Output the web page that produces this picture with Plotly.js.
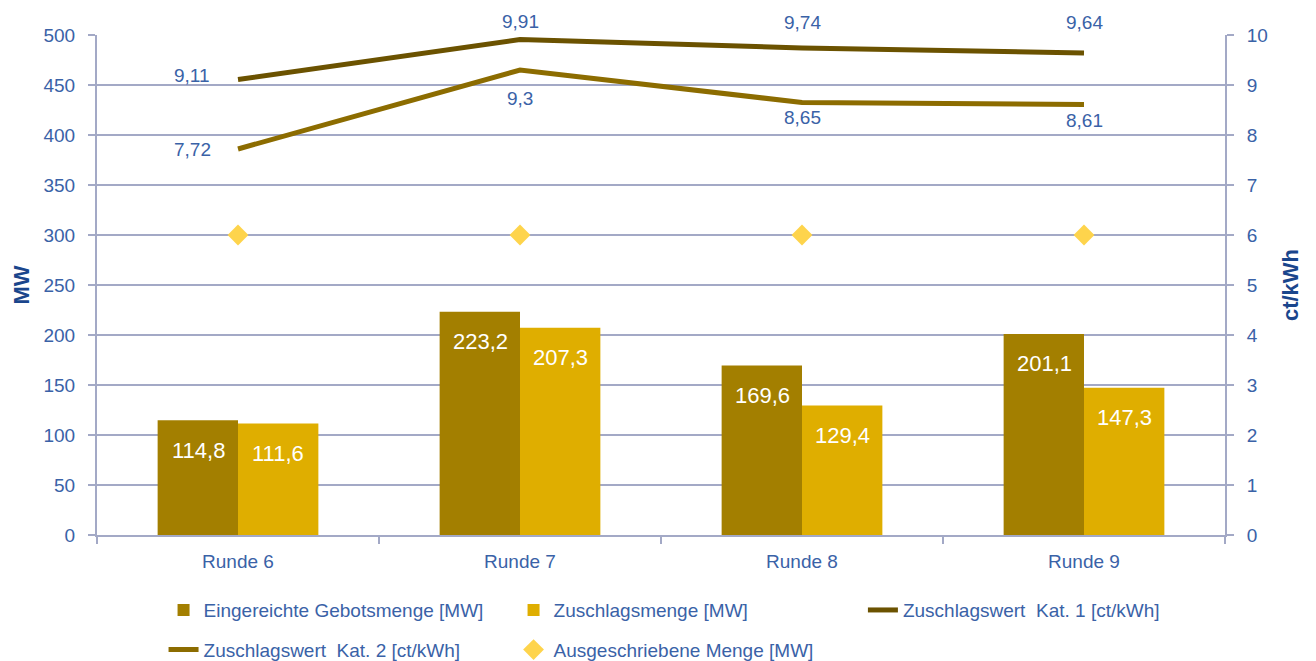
<!DOCTYPE html>
<html>
<head>
<meta charset="utf-8">
<script src="https://cdn.plot.ly/plotly-3.0.1.min.js"></script>
<style>html,body{margin:0;padding:0;background:#fff;}#chart{width:1316px;height:661px;}</style>
</head>
<body>
<div id="chart"></div>
<script>
// ---- data ----
const categories = ["Runde 6", "Runde 7", "Runde 8", "Runde 9"];
const gebotsmenge = [114.8, 223.2, 169.6, 201.1];      // MW
const zuschlagsmenge = [111.6, 207.3, 129.4, 147.3];   // MW
const wertKat1 = [9.11, 9.91, 9.74, 9.64];             // ct/kWh
const wertKat2 = [7.72, 9.3, 8.65, 8.61];              // ct/kWh
const ausgeschrieben = [300, 300, 300, 300];           // MW
const leftTicks = [0, 50, 100, 150, 200, 250, 300, 350, 400, 450, 500];
const rightTicks = [0, 1, 2, 3, 4, 5, 6, 7, 8, 9, 10];

// ---- style ----
const FONT = "Liberation Sans, Arial, sans-serif";
const TXT = "#3a62a7";
const TITLE = "#1a468c";
const GRID = "#a3a9c6";
const fmt = v => String(v).replace(".", ",");
// label offsets (px) for line value labels: [xshift, yshift]
const kat1Off = [[-46, 4], [0, 18], [0, 26], [0, 31]];
const kat2Off = [[-46, 0], [0, -28], [0, -15], [0, -16]];

const traces = [
  {type: "bar", name: "Eingereichte Gebotsmenge [MW]", x: categories, y: gebotsmenge,
   marker: {color: "#a37f00"}, hoverinfo: "y"},
  {type: "bar", name: "Zuschlagsmenge [MW]", x: categories, y: zuschlagsmenge,
   marker: {color: "#dfae00"}, hoverinfo: "y"},
  {type: "scatter", mode: "lines", name: "Zuschlagswert  Kat. 1 [ct/kWh]", x: categories, y: wertKat1,
   yaxis: "y2", line: {color: "#6b5200", width: 5}, legend: "legend3"},
  {type: "scatter", mode: "lines", name: "Zuschlagswert  Kat. 2 [ct/kWh]", x: categories, y: wertKat2,
   yaxis: "y2", line: {color: "#8c6c00", width: 5}, legend: "legend2"},
  {type: "scatter", mode: "markers", name: "Ausgeschriebene Menge [MW]", x: categories, y: ausgeschrieben,
   marker: {symbol: "diamond", size: 16, color: "#fed44c"}, legend: "legend2"}
];

const annotations = [];
categories.forEach((c, i) => {
  annotations.push({x: c, y: gebotsmenge[i], xref: "x", yref: "y", text: fmt(gebotsmenge[i]),
    showarrow: false, xshift: -40, yshift: -30, yanchor: "middle",
    font: {family: FONT, size: 22, color: "#ffffff"}});
  annotations.push({x: c, y: zuschlagsmenge[i], xref: "x", yref: "y", text: fmt(zuschlagsmenge[i]),
    showarrow: false, xshift: 40, yshift: -30, yanchor: "middle",
    font: {family: FONT, size: 22, color: "#ffffff"}});
  annotations.push({x: c, y: wertKat1[i], xref: "x", yref: "y2", text: fmt(wertKat1[i]),
    showarrow: false, xshift: kat1Off[i][0], yshift: kat1Off[i][1], yanchor: "middle",
    font: {family: FONT, size: 19, color: TXT}});
  annotations.push({x: c, y: wertKat2[i], xref: "x", yref: "y2", text: fmt(wertKat2[i]),
    showarrow: false, xshift: kat2Off[i][0], yshift: kat2Off[i][1], yanchor: "middle",
    font: {family: FONT, size: 19, color: TXT}});
});

const legendBase = {
  orientation: "h", xanchor: "left", yanchor: "middle", yref: "container",
  entrywidth: 305, entrywidthmode: "pixels",
  font: {family: FONT, size: 19, color: TXT}, bgcolor: "rgba(0,0,0,0)",
  traceorder: "normal", itemclick: false
};

const layout = {
  width: 1316, height: 661,
  margin: {l: 97, r: 91, t: 35, b: 126},
  paper_bgcolor: "#ffffff", plot_bgcolor: "#ffffff",
  separators: ",.",
  font: {family: FONT, size: 19, color: TXT},
  barmode: "group", bargap: 0.43, bargroupgap: 0,
  showlegend: true,
  legend: Object.assign({}, legendBase, {x: 0.059, y: 0.077}),
  legend3: Object.assign({}, legendBase, {x: 0.679, y: 0.077}),
  legend2: Object.assign({}, legendBase, {x: 0.059, y: 0.017}),
  xaxis: {
    type: "category", showline: true, linecolor: GRID, linewidth: 2,
    ticks: "outside", tickson: "boundaries", ticklen: 7, tickcolor: GRID, tickwidth: 2,
    tickfont: {family: FONT, size: 19, color: TXT}, showgrid: false, ticklabelstandoff: 8
  },
  yaxis: {
    range: [0, 500], tickvals: leftTicks, showline: true, linecolor: GRID, linewidth: 2,
    ticks: "outside", ticklen: 7, tickcolor: GRID, tickwidth: 2, ticklabelstandoff: 9,
    gridcolor: GRID, gridwidth: 2, zeroline: false,
    tickfont: {family: FONT, size: 19, color: TXT},
    title: {text: "<b>MW</b>", font: {family: FONT, size: 22, color: TITLE}, standoff: 8}
  },
  yaxis2: {
    range: [0, 10], tickvals: rightTicks, overlaying: "y", side: "right",
    showline: true, linecolor: GRID, linewidth: 2, showgrid: false, zeroline: false,
    ticks: "outside", ticklen: 7, tickcolor: GRID, tickwidth: 2, ticklabelstandoff: 9,
    tickfont: {family: FONT, size: 19, color: TXT},
    title: {text: "<b>ct/kWh</b>", font: {family: FONT, size: 22, color: TITLE}, standoff: 16}
  },
  annotations: annotations
};

Plotly.newPlot("chart", traces, layout, {displayModeBar: false, staticPlot: true});
</script>
</body>
</html>
